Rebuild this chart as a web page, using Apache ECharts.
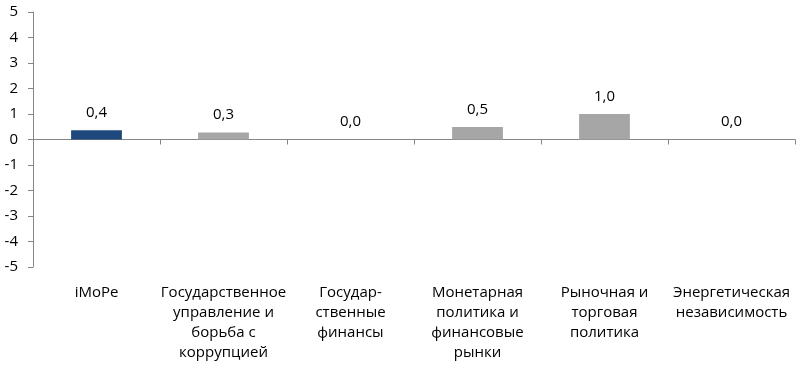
<!DOCTYPE html>
<html><head><meta charset="utf-8">
<script src="https://cdn.jsdelivr.net/npm/echarts@6/dist/echarts.min.js"></script>
<style>html,body{margin:0;padding:0;background:#fff}#c{width:798px;height:368px}</style>
</head><body><div id="c"></div>
<script>
const categories = ["iMoPe", "Государственное\nуправление и\nборьба с\nкоррупцией", "Государ-\nственные\nфинансы", "Монетарная\nполитика и\nфинансовые\nрынки", "Рыночная и\nторговая\nполитика", "Энергетическая\nнезависимость"];
const values = [0.36, 0.27, 0.0, 0.49, 1.0, 0.0];
const barColors = ["#1F497D", "#A6A6A6", "#A6A6A6", "#A6A6A6", "#A6A6A6", "#A6A6A6"];
const yMin = -5, yMax = 5, yStep = 1;

const font = "'Open Sans', sans-serif";
const chart = echarts.init(document.getElementById('c'), null, {renderer: 'canvas'});
chart.setOption({
  animation: false,
  textStyle: {fontFamily: font},
  grid: {left: 33, right: 3, top: 12, bottom: 101, containLabel: false},
  xAxis: [{
    type: 'category', data: categories,
    axisLine: {onZero: true, lineStyle: {color: '#868686', width: 1}},
    axisTick: {show: true, length: 5, interval: 0, lineStyle: {color: '#868686'}},
    axisLabel: {show: false, interval: 0}
  }, {
    type: 'category', data: categories, position: 'bottom',
    axisLine: {show: false, onZero: false},
    axisTick: {show: false},
    axisLabel: {show: true, interval: 0, color: '#000', fontSize: 15, lineHeight: 20, margin: 16, fontFamily: font}
  }],
  yAxis: {
    type: 'value', min: yMin, max: yMax, interval: yStep,
    axisLine: {show: true, lineStyle: {color: '#868686'}},
    axisTick: {show: true, length: 5, lineStyle: {color: '#868686'}},
    splitLine: {show: false},
    axisLabel: {color: '#000', fontSize: 15, margin: 15, fontFamily: font}
  },
  series: [{
    type: 'bar', xAxisIndex: 0, barWidth: '40%',
    data: values.map((v, i) => ({value: v, itemStyle: {color: barColors[i]}})),
    label: {show: true, position: 'top', distance: 10, color: '#000', fontSize: 15, fontFamily: font,
      formatter: p => (Math.round(p.value * 10) / 10).toFixed(1).replace('.', ',')}
  }]
});
</script></body></html>
